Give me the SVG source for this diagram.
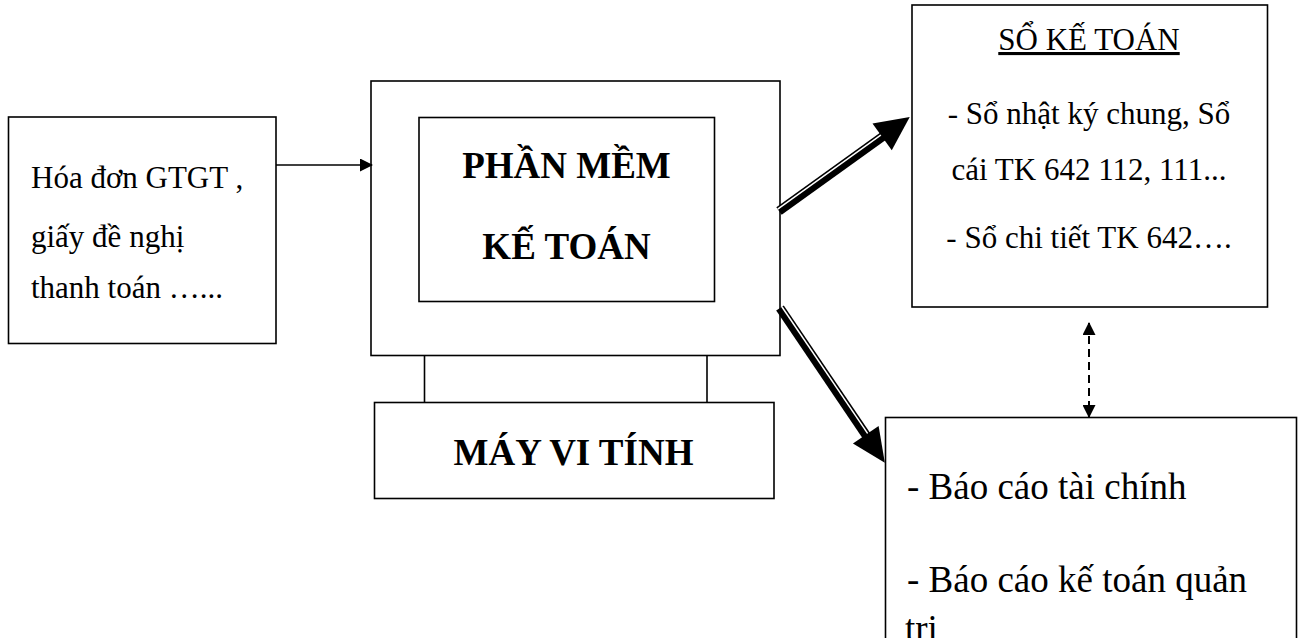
<svg xmlns="http://www.w3.org/2000/svg" width="1304" height="638" viewBox="0 0 1304 638">
  <style>
    .box { fill: #ffffff; stroke: #000000; stroke-width: 1.6; }
    .txt { font-family: "Liberation Serif", "Times New Roman", serif; fill: #000000; }
    .t31 { font-size: 31px; }
    .t37 { font-size: 37px; }
    .bold { font-weight: bold; }
    .mid { text-anchor: middle; }
    .wire { stroke: #000000; stroke-width: 1.6; fill: none; }
    .dash { stroke: #000000; stroke-width: 2; stroke-dasharray: 8 5; fill: none; }
  </style>
  <defs>
    <marker id="tip" viewBox="0 0 13 13" refX="12" refY="6.5" markerWidth="13" markerHeight="13" markerUnits="userSpaceOnUse" orient="auto-start-reverse">
      <path d="M0,0 L13,6.5 L0,13 Z" fill="#000000"/>
    </marker>
  </defs>

  <rect width="1304" height="638" fill="#ffffff"/>

  <!-- source documents -->
  <g id="node-documents">
    <rect class="box" x="8.5" y="117" width="267.5" height="226.5"/>
    <text class="txt t31" x="31" y="188">Hóa đơn GTGT ,</text>
    <text class="txt t31" x="31" y="247">giấy đề nghị</text>
    <text class="txt t31" x="31" y="298">thanh toán …...</text>
  </g>

  <!-- monitor with the accounting software -->
  <g id="node-monitor">
    <rect class="box" x="371" y="81" width="409" height="274.5"/>
  </g>
  <g id="node-software">
    <rect class="box" x="419" y="117.5" width="295.5" height="184"/>
    <text class="txt t37 bold mid" x="566.5" y="178">PHẦN MỀM</text>
    <text class="txt t37 bold mid" x="566.5" y="259">KẾ TOÁN</text>
  </g>
  <g id="node-stand">
    <line class="wire" x1="424.5" y1="355.5" x2="424.5" y2="402.5"/>
    <line class="wire" x1="707" y1="355.5" x2="707" y2="402.5"/>
  </g>
  <g id="node-computer">
    <rect class="box" x="374.5" y="402.5" width="399.5" height="96"/>
    <text class="txt t37 bold mid" x="573.5" y="465">MÁY VI TÍNH</text>
  </g>

  <!-- accounting books -->
  <g id="node-ledger">
    <rect class="box" x="912" y="5" width="355.5" height="302"/>
    <text class="txt t31 mid" x="1089" y="50" text-decoration="underline">SỔ KẾ TOÁN</text>
    <text class="txt t31 mid" x="1089" y="124">- Sổ nhật ký chung, Sổ</text>
    <text class="txt t31 mid" x="1089" y="180">cái TK 642 112, 111...</text>
    <text class="txt t31 mid" x="1089" y="248">- Sổ chi tiết TK 642….</text>
  </g>

  <!-- financial and management reports -->
  <g id="node-reports">
    <rect class="box" x="885.5" y="417.5" width="411" height="240"/>
    <text class="txt t37" x="907" y="499">- Báo cáo tài chính</text>
    <text class="txt t37" x="907" y="592">- Báo cáo kế toán quản</text>
    <text class="txt t37" x="905" y="641">trị</text>
  </g>

  <!-- connectors -->
  <g id="connectors">
    <line class="wire" x1="276" y1="165" x2="372" y2="165" marker-end="url(#tip)"/>
    <line class="dash" x1="1089" y1="323" x2="1089" y2="417" marker-start="url(#tip)" marker-end="url(#tip)"/>

    <!-- thin-thick compound arrow to the books -->
    <g transform="translate(779,211) rotate(-35.7)">
      <rect x="0" y="-4.6" width="129" height="9.2" fill="#000000"/>
      <rect x="0" y="-3" width="129" height="1.5" fill="#ffffff"/>
      <polygon points="127,-16.5 161,0 127,16.5" fill="#000000"/>
    </g>
    <!-- thin-thick compound arrow to the reports -->
    <g transform="translate(780,308) rotate(55.9)">
      <rect x="0" y="-4.6" width="155" height="9.2" fill="#000000"/>
      <rect x="0" y="-3" width="155" height="1.5" fill="#ffffff"/>
      <polygon points="153,-15.5 187,0 153,15.5" fill="#000000"/>
    </g>
  </g>
</svg>
